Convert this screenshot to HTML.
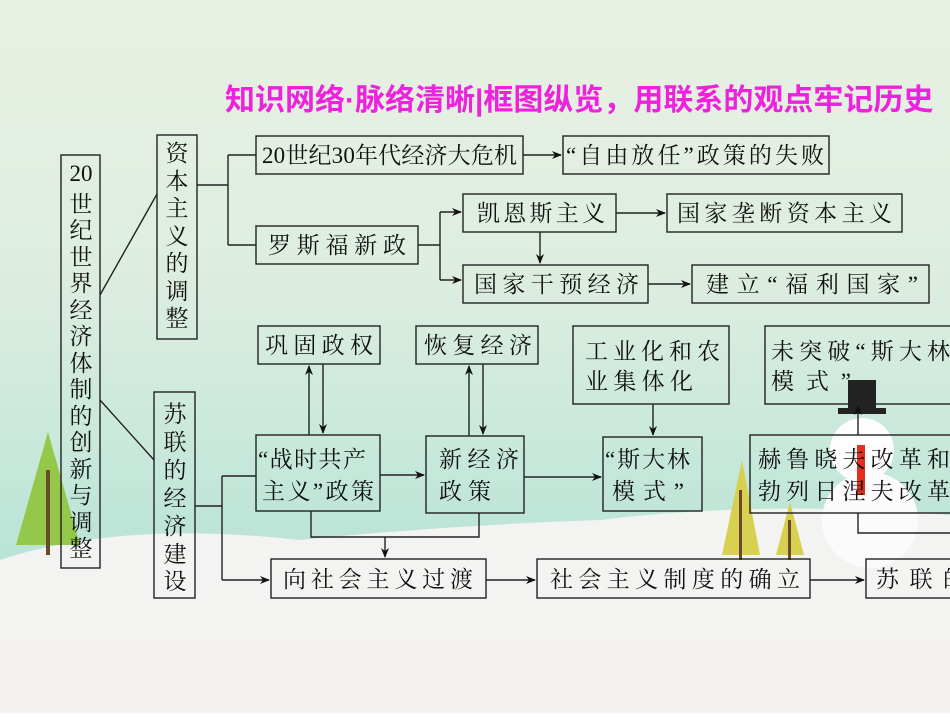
<!DOCTYPE html>
<html><head><meta charset="utf-8"><style>
html,body{margin:0;padding:0;}
body{width:950px;height:713px;overflow:hidden;}
svg text{font-family:"Liberation Serif","Noto Serif CJK SC",serif;fill:#111;font-size:23px;}
.t{font-family:"Liberation Sans","Noto Sans CJK SC",sans-serif;font-weight:bold;fill:#ee22dd;font-size:30px;}
</style></head><body>
<svg width="950" height="713" viewBox="0 0 950 713" xmlns="http://www.w3.org/2000/svg">
<defs>
<linearGradient id="bg" x1="0" y1="0" x2="0" y2="1">
<stop offset="0" stop-color="#e9f1e3"/><stop offset="0.4" stop-color="#dcede0"/><stop offset="0.65" stop-color="#c6e8da"/><stop offset="0.78" stop-color="#b9e4d6"/>
</linearGradient>
<marker id="a" markerWidth="10" markerHeight="8" refX="9" refY="4" orient="auto" markerUnits="userSpaceOnUse"><path d="M0,0 L10,4 L0,8 L3,4z" fill="#111"/></marker>
</defs>
<rect width="950" height="713" fill="url(#bg)"/>
<path d="M0,560 Q120,520 300,540 Q450,525 600,520 Q760,500 950,515 L950,713 L0,713z" fill="#f3f3f1"/>
<rect x="0" y="640" width="950" height="73" fill="#f3f2f0"/>
<polygon points="48,432 80,545 16,545" fill="#93c84a"/><rect x="46" y="470" width="4" height="85" fill="#6b4a2a"/>
<polygon points="742,460 760,555 722,555" fill="#d8d050"/><rect x="739" y="490" width="3" height="70" fill="#6b4a2a"/>
<polygon points="790,502 804,555 776,555" fill="#d8d050"/><rect x="788" y="520" width="3" height="40" fill="#6b4a2a"/>
<circle cx="870" cy="520" r="48" fill="#fbfbfb"/><circle cx="862" cy="450" r="32" fill="#fdfdfd"/>
<rect x="848" y="380" width="28" height="32" fill="#222"/><rect x="838" y="408" width="48" height="6" fill="#222"/>
<rect x="857" y="445" width="8" height="50" fill="#e03020"/>
<text class="t" x="225" y="110">知识网络·脉络清晰|框图纵览，用联系的观点牢记历史</text>
<g fill="none" stroke="#222" stroke-width="1.4">
<rect x="61" y="155" width="39" height="413"/>
<rect x="157" y="135" width="40" height="204"/>
<rect x="154" y="392" width="41" height="206"/>
<rect x="256" y="136" width="267" height="38"/>
<rect x="563" y="136" width="266" height="38"/>
<rect x="256" y="226" width="162" height="38"/>
<rect x="463" y="194" width="153" height="38"/>
<rect x="667" y="194" width="235" height="38"/>
<rect x="463" y="265" width="185" height="38"/>
<rect x="692" y="265" width="237" height="38"/>
<rect x="258" y="326" width="122" height="38"/>
<rect x="416" y="326" width="122" height="38"/>
<rect x="573" y="326" width="156" height="78"/>
<rect x="765" y="326" width="200" height="78"/>
<rect x="256" y="435" width="124" height="76"/>
<rect x="426" y="436" width="98" height="77"/>
<rect x="603" y="437" width="99" height="74"/>
<rect x="750" y="435" width="210" height="78"/>
<rect x="271" y="559" width="215" height="39"/>
<rect x="537" y="559" width="273" height="39"/>
<rect x="866" y="559" width="100" height="39"/>
<path d="M100,295 L157,194 M100,400 L154,460"/>
<path d="M197,185 H228 M228,155 V245 M228,155 H256 M228,245 H256"/>
<path d="M418,245 H440 M440,212 V280"/>
<path d="M195,506 H222 M222,476 V580 M222,476 H256"/>
<path d="M311,511 V537 H479 V513"/>
<path d="M858,513 V533 H950"/>
</g>
<g fill="none" stroke="#222" stroke-width="1.4" marker-end="url(#a)">
<path d="M523,155 H561"/>
<path d="M440,212 H461"/><path d="M440,280 H461"/>
<path d="M616,213 H665"/>
<path d="M540,232 V263"/>
<path d="M648,284 H690"/>
<path d="M309,435 V366"/><path d="M323,364 V433"/>
<path d="M469,436 V366"/><path d="M483,364 V434"/>
<path d="M653,404 V435"/>
<path d="M858,435 V406"/>
<path d="M380,475 H424"/>
<path d="M524,477 H601"/>
<path d="M385,537 V557"/>
<path d="M222,580 H269"/>
<path d="M486,580 H535"/>
<path d="M810,580 H864"/>
</g>
<g text-anchor="middle">
<text x="81" y="181" font-size="21">20</text>
<text x="81" y="212">世</text><text x="81" y="238">纪</text><text x="81" y="265">世</text><text x="81" y="291">界</text><text x="81" y="318">经</text><text x="81" y="344">济</text><text x="81" y="371">体</text><text x="81" y="397">制</text><text x="81" y="424">的</text><text x="81" y="450">创</text><text x="81" y="477">新</text><text x="81" y="503">与</text><text x="81" y="530">调</text><text x="81" y="556">整</text>
</g>
<g text-anchor="middle">
<text x="177" y="161">资</text><text x="177" y="189">本</text><text x="177" y="216">主</text><text x="177" y="244">义</text><text x="177" y="271">的</text><text x="177" y="299">调</text><text x="177" y="326">整</text>
<text x="175" y="422">苏</text><text x="175" y="450">联</text><text x="175" y="478">的</text><text x="175" y="506">经</text><text x="175" y="534">济</text><text x="175" y="562">建</text><text x="175" y="589">设</text>
</g>
<text x="262" y="163" textLength="255">20世纪30年代经济大危机</text>
<text x="566" y="163" textLength="258">“自由放任”政策的失败</text>
<text x="268" y="253" textLength="138">罗斯福新政</text>
<text x="477" y="221" textLength="128">凯恩斯主义</text>
<text x="677" y="221" textLength="215">国家垄断资本主义</text>
<text x="474" y="292" textLength="165">国家干预经济</text>
<text x="706" y="292" textLength="212">建立“福利国家”</text>
<text x="265" y="353" textLength="108">巩固政权</text>
<text x="424" y="353" textLength="108">恢复经济</text>
<text x="585" y="359" textLength="135">工业化和农</text>
<text x="585" y="389" textLength="108">业集体化</text>
<text x="771" y="359" textLength="179">未突破“斯大林</text>
<text x="771" y="389" textLength="80">模式”</text>
<text x="258" y="467" textLength="108">“战时共产</text>
<text x="262" y="499" textLength="112">主义”政策</text>
<text x="439" y="467" textLength="80">新经济</text>
<text x="439" y="499" textLength="52">政策</text>
<text x="605" y="467" textLength="85">“斯大林</text>
<text x="612" y="499" textLength="72">模式”</text>
<text x="758" y="467" textLength="192">赫鲁晓夫改革和</text>
<text x="758" y="499" textLength="192">勃列日涅夫改革</text>
<text x="283" y="587" textLength="190">向社会主义过渡</text>
<text x="550" y="587" textLength="250">社会主义制度的确立</text>
<text x="876" y="587" textLength="90">苏联的</text>
</svg>
</body></html>
